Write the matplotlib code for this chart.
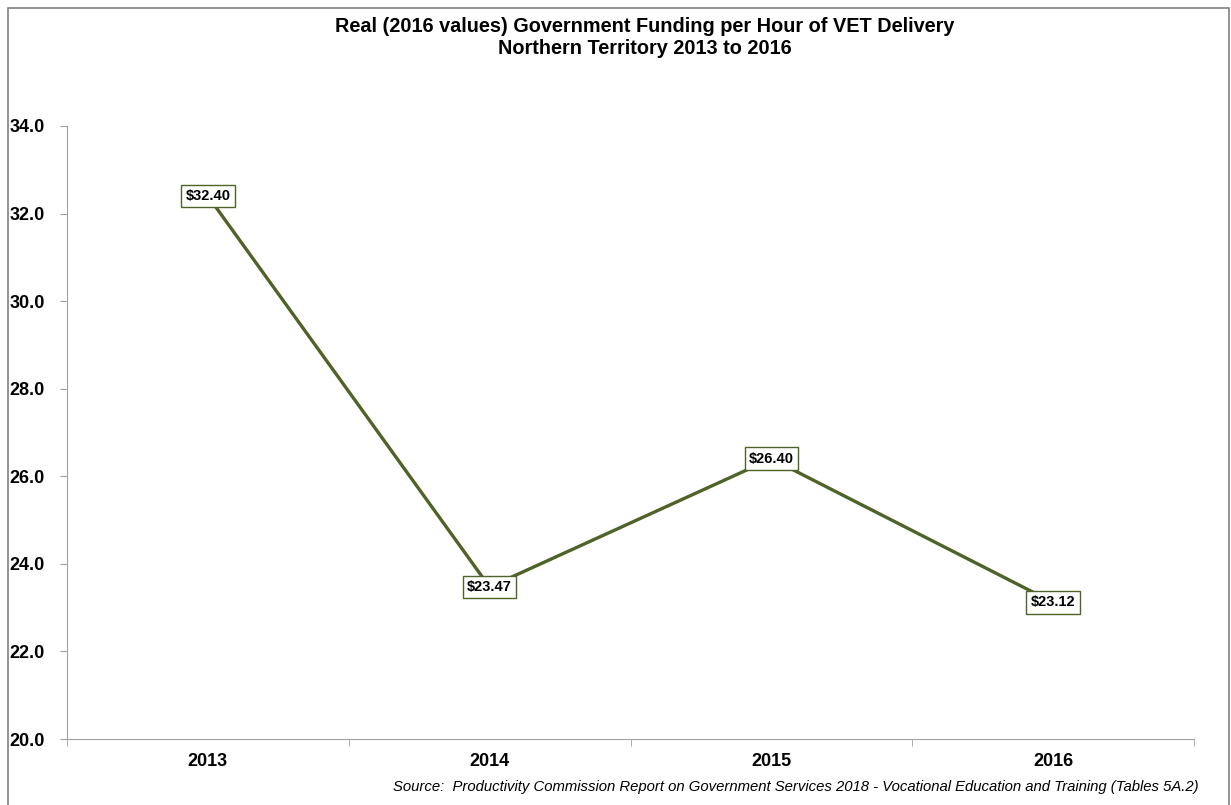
import matplotlib
matplotlib.use('Agg')
import matplotlib.pyplot as plt
from matplotlib.patches import Rectangle

# data
years = ['2013', '2014', '2015', '2016']
funding = [32.40, 23.47, 26.40, 23.12]
yticks = [20.0, 22.0, 24.0, 26.0, 28.0, 30.0, 32.0, 34.0]

plt.rcParams['font.family'] = ['Liberation Sans', 'DejaVu Sans']

fig = plt.figure(figsize=(12.31, 8.05), dpi=100)
# axes placed in pixel terms: x 67..1194, y 126..739
W, H = 1231.0, 805.0
ax = fig.add_axes([67 / W, 1 - 739 / H, (1194 - 67) / W, (739 - 126) / H])

line_col = '#4F6228'
x = list(range(len(years)))
ax.plot(x, funding, color=line_col, linewidth=2.4, solid_capstyle='round')

for xi, v in zip(x, funding):
    ax.text(xi, v, '$%.2f' % v, ha='center', va='center', fontsize=10.5,
            fontweight='bold', color='black',
            bbox=dict(boxstyle='square,pad=0.3', fc='white', ec=line_col, lw=1))

ax.set_xlim(-0.5, len(years) - 0.5)
ax.set_ylim(20, 34)
ax.set_yticks(yticks)
ax.set_yticklabels(['%.1f' % t for t in yticks], fontsize=13, fontweight='bold')
ax.set_xticks(x)
ax.set_xticklabels(years, fontsize=13, fontweight='bold')
# category boundary ticks
ax.set_xticks([i - 0.5 for i in range(len(years) + 1)], minor=True)
ax.tick_params(axis='x', which='major', length=0, pad=10)
ax.tick_params(axis='x', which='minor', length=5, color='#A0A0A0', direction='out')
ax.tick_params(axis='y', length=5, color='#A0A0A0', pad=11)

ax.spines['top'].set_visible(False)
ax.spines['right'].set_visible(False)
ax.spines['left'].set_color('#A0A0A0')
ax.spines['bottom'].set_color('#A0A0A0')

fig.text(645 / W, 1 - 26 / H, 'Real (2016 values) Government Funding per Hour of VET Delivery',
         ha='center', va='center', fontsize=14.3, fontweight='bold')
fig.text(645 / W, 1 - 49 / H, 'Northern Territory 2013 to 2016',
         ha='center', va='center', fontsize=14.3, fontweight='bold')
fig.text(1199 / W, 1 - 787 / H,
         'Source:  Productivity Commission Report on Government Services 2018 - Vocational Education and Training (Tables 5A.2)',
         ha='right', va='center', fontsize=10.7, style='italic')

# outer chart border
fig.patches.append(Rectangle((8 / W, -0.01), (1229 - 8) / W, 1 - 8 / H + 0.01,
                             transform=fig.transFigure, fill=False,
                             edgecolor='#808080', linewidth=1.2))

fig.savefig('out.png', dpi=100)
